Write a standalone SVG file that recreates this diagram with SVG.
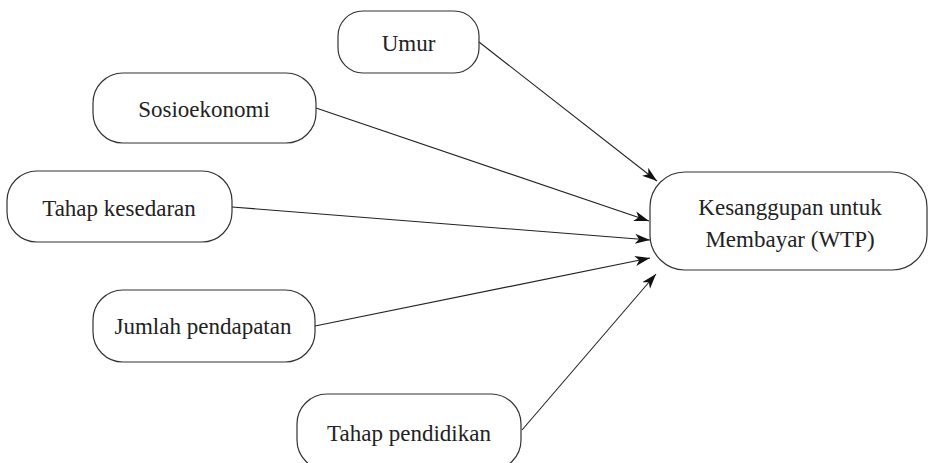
<svg xmlns="http://www.w3.org/2000/svg" width="929" height="463" viewBox="0 0 929 463">
<style>
.box{fill:#fff;stroke:#333;stroke-width:1.2}
.lbl{font-family:"Liberation Serif","Times New Roman",serif;font-size:23px;fill:#222;text-anchor:middle}
.edge{stroke:#222;stroke-width:1.1;fill:none;marker-end:url(#arr)}
</style>
<defs>
<marker id="arr" markerUnits="userSpaceOnUse" markerWidth="16" markerHeight="12" refX="15" refY="5" orient="auto">
<path d="M0,0 L15,5 L0,10 L4,5 z" fill="#111"/>
</marker>
</defs>
<rect width="929" height="463" fill="#fff"/>
<g id="connectors">
<line class="edge" x1="479" y1="42" x2="657" y2="181"/>
<line class="edge" x1="316" y1="108" x2="649" y2="221"/>
<line class="edge" x1="232" y1="207" x2="650" y2="240"/>
<line class="edge" x1="315" y1="326" x2="650" y2="258"/>
<line class="edge" x1="522" y1="430" x2="656" y2="274"/>
</g>
<g id="umur">
<rect class="box" x="338" y="11" width="141" height="62" rx="25" ry="25"/>
<text class="lbl" x="408.5" y="51">Umur</text>
</g>
<g id="sosioekonomi">
<rect class="box" x="93" y="73" width="223" height="70" rx="30" ry="30"/>
<text class="lbl" x="204" y="116.5">Sosioekonomi</text>
</g>
<g id="kesedaran">
<rect class="box" x="7" y="171" width="225" height="71" rx="30" ry="30"/>
<text class="lbl" x="119" y="216">Tahap kesedaran</text>
</g>
<g id="pendapatan">
<rect class="box" x="93" y="290" width="222" height="72" rx="30" ry="30"/>
<text class="lbl" x="203" y="334">Jumlah pendapatan</text>
</g>
<g id="pendidikan">
<rect class="box" x="297" y="394" width="224" height="76" rx="30" ry="30"/>
<text class="lbl" x="409" y="441">Tahap pendidikan</text>
</g>
<g id="wtp">
<rect class="box" x="650" y="172" width="277" height="98" rx="35" ry="35"/>
<text class="lbl" x="790" y="215">Kesanggupan untuk</text>
<text class="lbl" x="790" y="247">Membayar (WTP)</text>
</g>
</svg>
